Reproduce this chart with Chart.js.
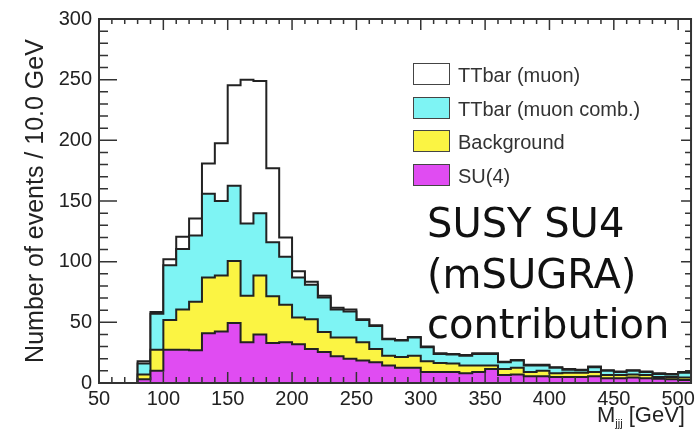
<!DOCTYPE html>
<html>
<head>
<meta charset="utf-8">
<title>M_jjj distribution</title>
<script src="https://cdn.jsdelivr.net/npm/chart.js@4.4.1/dist/chart.umd.min.js"></script>
<style>
  body { margin: 0; background: #fff; }
  #wrap { position: relative; width: 699px; height: 435px; overflow: hidden; }
  #wrap canvas { position: absolute; left: 0; top: 0; }
  .key { position: absolute; left: 413px; height: 23px; font: 20px "Liberation Sans", Arial, sans-serif; color: #333; }
  .key .box { position: absolute; left: 0; top: 0; width: 35px; height: 20px; border: 1.5px solid #444; }
  .key .txt { position: absolute; left: 45px; top: 1px; white-space: nowrap; line-height: 22px; }
  #note { position: absolute; left: 427px; top: 198px; font: 40px "DejaVu Sans", sans-serif; line-height: 50.5px; color: #111; white-space: nowrap; }
  #xtitle { position: absolute; left: 597px; top: 404px; font: 22px "Liberation Sans", Arial, sans-serif; line-height: 22px; color: #222; white-space: nowrap; }
  #xtitle sub { font-size: 11px; vertical-align: -5px; margin-right: 6px; }
</style>
</head>
<body>
<div id="wrap">
  <canvas id="hist" width="699" height="435"></canvas>
  <div id="note">SUSY SU4<br>(mSUGRA)<br>contribution</div>
  <div id="xtitle">M<sub>jjj</sub>[GeV]</div>
</div>
<script>
// 10 GeV bins, lower edges
var binLow = [50, 60, 70, 80, 90, 100, 110, 120, 130, 140, 150, 160, 170, 180, 190, 200,
              210, 220, 230, 240, 250, 260, 270, 280, 290, 300, 310, 320, 330, 340, 350,
              360, 370, 380, 390, 400, 410, 420, 430, 440, 450, 460, 470, 480, 490, 500];
var binWidth = 10;

// events per bin for each sample (stacked bottom to top)
var su4 = [0, 0, 0, 3, 10, 27.5, 27.5, 27, 41, 42.5, 49.5, 33.5, 40, 33, 33.5, 32,
           28, 25.5, 22, 20, 18.5, 17, 14.5, 12.5, 12.5, 9, 9, 9, 8, 9, 11.5,
           6.5, 7, 5.5, 5.5, 5, 5, 5, 5.5, 4, 4, 4.5, 4, 3.5, 3, 2.5];
var background = [0, 0, 0, 4, 17.5, 24.5, 33, 40, 46, 46, 51, 38.5, 48.5, 38.5, 31, 22,
                  24.5, 16.5, 15.5, 17.5, 15, 11, 8, 9, 10, 9, 7.5, 7, 6.5, 5.5, 3,
                  5, 5.5, 3.5, 4.5, 3, 3.5, 3.5, 3.5, 2.5, 2.5, 2.5, 2.5, 1.5, 2, 2];
var ttbarMuonComb = [0, 0, 0, 9, 29.5, 45, 50, 54.5, 69, 61.5, 62, 59.5, 51.5, 44.5, 39.5, 33,
                     28.5, 28.5, 23, 21.5, 18.5, 19, 13.5, 13.5, 15, 11.5, 7.5, 7.5, 8, 9.5, 9.5,
                     5.5, 6, 5.5, 4.5, 4.5, 2.5, 2, 4, 3.5, 2.5, 3, 2.5, 2.5, 2, 4];
var ttbarMuon = [0, 0, 0, 2, 1.5, 5, 10, 14, 25, 47.5, 83, 118.5, 109, 61, 16, 5,
                 2.5, 1.5, 1.5, 1.5, 0.5, 0.5, 0.5, 0.5, 0.5, 0.5, 0.5, 0.5, 0.5, 0.5, 0.5,
                 0.5, 0.5, 0.5, 0.5, 0.5, 0.5, 0.5, 0.5, 0.5, 0.5, 0.5, 0.5, 0.5, 0.5, 0.5];

var xTicks = [50, 100, 150, 200, 250, 300, 350, 400, 450, 500];
var yTicks = [0, 50, 100, 150, 200, 250, 300];

var layers = [
    { label: 'SU(4)', values: su4, color: '#e04cf2' },
    { label: 'Background', values: background, color: '#fbf443' },
    { label: 'TTbar (muon comb.)', values: ttbarMuonComb, color: '#7ef4f4' },
    { label: 'TTbar (muon)', values: ttbarMuon, color: '#ffffff' }
];

var axisFont = '"Liberation Sans", Arial, sans-serif';

// one point per lower bin edge, plus the upper edge of the last bin
function histPoints(vals) {
    var pts = binLow.map(function (lo, i) {
        return { x: lo, y: vals[i] };
    });
    pts.push({ x: binLow[binLow.length - 1] + binWidth, y: vals[vals.length - 1] });
    return pts;
}

// frame with inward ticks on all four sides
var frameTicks = {
    id: 'frameTicks',
    afterDatasetsDraw: function (chart) {
        var ctx = chart.ctx, a = chart.chartArea;
        var x = chart.scales.x, y = chart.scales.y;
        ctx.save();
        ctx.strokeStyle = '#333';
        ctx.lineWidth = 1.5;
        ctx.beginPath();
        for (var v = y.min; v <= y.max; v += 10) {
            var py = y.getPixelForValue(v);
            var major = v % 50 === 0;
            ctx.moveTo(a.left, py);
            ctx.lineTo(a.left + (major ? 18 : 9), py);
            ctx.moveTo(a.right, py);
            ctx.lineTo(a.right - (major ? 10 : 6), py);
        }
        for (var u = x.min; u <= x.max; u += 10) {
            var px = x.getPixelForValue(u);
            var big = u % 50 === 0;
            ctx.moveTo(px, a.bottom);
            ctx.lineTo(px, a.bottom - (big ? 11 : 6));
            ctx.moveTo(px, a.top);
            ctx.lineTo(px, a.top + (big ? 11 : 5));
        }
        ctx.stroke();
        ctx.lineWidth = 2;
        ctx.strokeRect(a.left, a.top, a.right - a.left, a.bottom - a.top);
        ctx.restore();
    }
};

var chart = new Chart(document.getElementById('hist'), {
    type: 'line',
    data: {
        datasets: layers.map(function (l) {
            return {
                label: l.label,
                data: histPoints(l.values),
                stepped: true,
                fill: 'origin',
                backgroundColor: l.color,
                borderColor: '#222',
                borderWidth: 2,
                pointRadius: 0,
                tension: 0
            };
        })
    },
    options: {
        responsive: false,
        animation: false,
        layout: { padding: { top: 13, right: 7 } },
        plugins: {
            legend: { display: false },
            tooltip: { enabled: false }
        },
        scales: {
            x: {
                type: 'linear',
                min: 50,
                max: 510,
                afterBuildTicks: function (s) {
                    s.ticks = xTicks.map(function (v) { return { value: v }; });
                },
                afterFit: function (s) { s.height = 52; },
                grid: { display: false, drawTicks: false },
                border: { display: false },
                ticks: { font: { family: axisFont, size: 20 }, color: '#222', padding: 4, maxRotation: 0, autoSkip: false }
            },
            y: {
                type: 'linear',
                stacked: true,
                min: 0,
                max: 300,
                afterBuildTicks: function (s) {
                    s.ticks = yTicks.map(function (v) { return { value: v }; });
                },
                afterFit: function (s) { s.width = 99; },
                grid: { display: false, drawTicks: false },
                border: { display: false },
                ticks: { font: { family: axisFont, size: 20 }, color: '#222', padding: 7 },
                title: {
                    display: true,
                    text: 'Number of events / 10.0 GeV',
                    font: { family: axisFont, size: 25 },
                    color: '#222',
                    padding: { top: 21, bottom: 0 }
                }
            }
        }
    },
    plugins: [frameTicks]
});

// legend, top sample first
var wrap = document.getElementById('wrap');
layers.slice().reverse().forEach(function (l, i) {
    var row = document.createElement('div');
    row.className = 'key';
    row.style.top = (63 + i * 33.5) + 'px';
    var box = document.createElement('span');
    box.className = 'box';
    box.style.background = l.color;
    var txt = document.createElement('span');
    txt.className = 'txt';
    txt.textContent = l.label;
    row.appendChild(box);
    row.appendChild(txt);
    wrap.appendChild(row);
});
</script>
</body>
</html>
